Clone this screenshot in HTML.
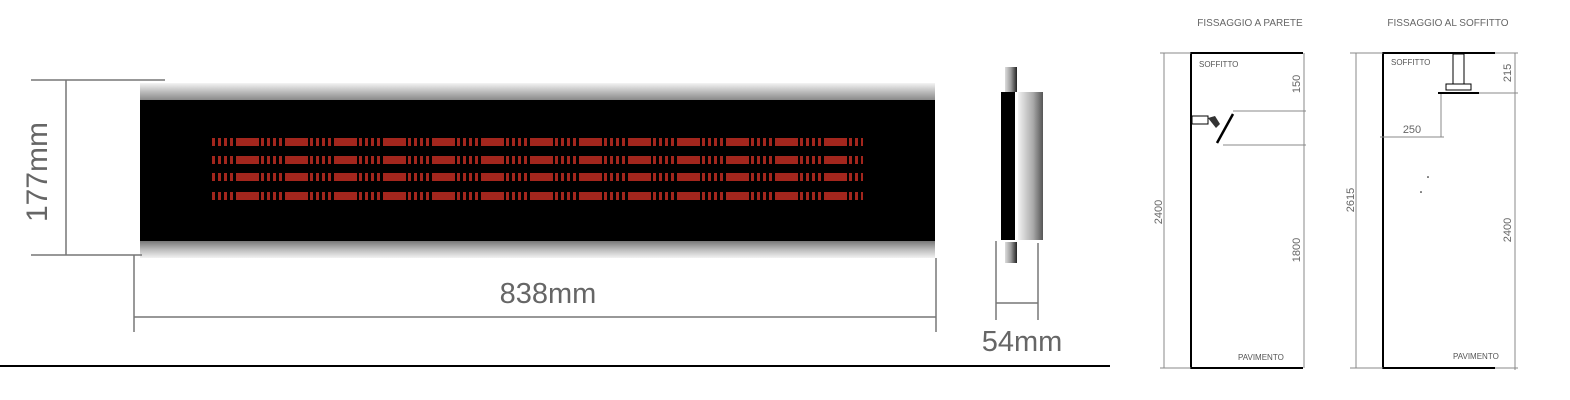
<!DOCTYPE html>
<html><head><meta charset="utf-8"><style>
html,body{margin:0;padding:0;background:#fff;}
svg{display:block;}
text{font-family:"Liberation Sans",sans-serif;}
</style></head><body>
<svg width="1570" height="400" viewBox="0 0 1570 400" xmlns="http://www.w3.org/2000/svg">
<defs>
<linearGradient id="bar" x1="0" y1="0" x2="0" y2="1">
<stop offset="0" stop-color="#f4f4f4"/><stop offset="0.5" stop-color="#bdbdbd"/><stop offset="1" stop-color="#8a8a8a"/></linearGradient>
<linearGradient id="bar2" x1="0" y1="0" x2="0" y2="1">
<stop offset="0" stop-color="#777"/><stop offset="0.5" stop-color="#bbb"/><stop offset="1" stop-color="#f2f2f2"/></linearGradient>
<linearGradient id="side" x1="0" y1="0" x2="1" y2="0">
<stop offset="0" stop-color="#f2f2f2"/><stop offset="0.6" stop-color="#aaa"/><stop offset="1" stop-color="#555"/></linearGradient>
<linearGradient id="cyl" x1="0" y1="0" x2="1" y2="0">
<stop offset="0" stop-color="#ddd"/><stop offset="0.5" stop-color="#999"/><stop offset="1" stop-color="#222"/></linearGradient>
<pattern id="red" x="212" y="0" width="49" height="400" patternUnits="userSpaceOnUse">
<rect x="0" y="0" width="3" height="400" fill="#a3261d"/>
<rect x="6" y="0" width="3" height="400" fill="#a3261d"/>
<rect x="12" y="0" width="3" height="400" fill="#a3261d"/>
<rect x="18" y="0" width="3" height="400" fill="#a3261d"/>
<rect x="24" y="0" width="23" height="400" fill="#a3261d"/>
</pattern>
</defs>

<!-- heater front -->
<rect x="140" y="83" width="795" height="17" fill="url(#bar)"/>
<rect x="140" y="100" width="795" height="141" fill="#000"/>
<rect x="140" y="241" width="795" height="17" fill="url(#bar2)"/>
<g fill="url(#red)">
<rect x="212" y="138" width="640" height="8"/>
<rect x="212" y="156" width="640" height="8"/>
<rect x="212" y="173" width="640" height="8"/>
<rect x="212" y="192" width="640" height="8"/>
</g>
<g fill="#a3261d">
<rect x="855" y="138" width="3" height="8"/><rect x="861" y="138" width="2" height="8"/>
<rect x="855" y="156" width="3" height="8"/><rect x="861" y="156" width="2" height="8"/>
<rect x="855" y="173" width="3" height="8"/><rect x="861" y="173" width="2" height="8"/>
<rect x="855" y="192" width="3" height="8"/><rect x="861" y="192" width="2" height="8"/>
</g>

<!-- dimensions front -->
<g stroke="#777" stroke-width="1.5" fill="none">
<line x1="31" y1="80" x2="165" y2="80"/>
<line x1="31" y1="255" x2="142" y2="255"/>
<line x1="66" y1="80" x2="66" y2="255"/>
<line x1="134" y1="255" x2="134" y2="332"/>
<line x1="936" y1="258" x2="936" y2="332"/>
<line x1="134" y1="317" x2="936" y2="317"/>
</g>
<text x="0" y="0" transform="translate(47,172) rotate(-90)" text-anchor="middle" font-size="30" fill="#666">177mm</text>
<text x="548" y="303" text-anchor="middle" font-size="29" fill="#666">838mm</text>

<!-- side view -->
<rect x="1005" y="67" width="12" height="25" fill="url(#cyl)"/>
<rect x="1005" y="242" width="12" height="21" fill="url(#cyl)"/>
<rect x="1001" y="92" width="14" height="148" fill="#000"/>
<rect x="1018" y="92" width="25" height="148" fill="url(#side)"/>
<g stroke="#777" stroke-width="1.5">
<line x1="996" y1="241" x2="996" y2="320"/>
<line x1="1038" y1="243" x2="1038" y2="320"/>
<line x1="996" y1="303" x2="1038" y2="303"/>
</g>
<text x="1022" y="351" text-anchor="middle" font-size="29" fill="#666">54mm</text>

<line x1="0" y1="366" x2="1110" y2="366" stroke="#000" stroke-width="2"/>

<!-- wall mounting -->
<text x="1250" y="26" text-anchor="middle" font-size="10" fill="#666">FISSAGGIO A PARETE</text>
<g stroke="#000" stroke-width="2" fill="none">
<polyline points="1303,53 1191,53 1191,368 1303,368"/>
</g>
<g stroke="#888" stroke-width="1" fill="none">
<line x1="1160" y1="53" x2="1191" y2="53"/>
<line x1="1160" y1="368" x2="1191" y2="368"/>
<line x1="1164" y1="53" x2="1164" y2="368"/>
<line x1="1304" y1="53" x2="1304" y2="368"/>
<line x1="1233" y1="111" x2="1306" y2="111"/>
<line x1="1223" y1="145" x2="1306" y2="145"/>
</g>
<text transform="translate(1162,212) rotate(-90)" text-anchor="middle" font-size="11" fill="#666">2400</text>
<text transform="translate(1300,84) rotate(-90)" text-anchor="middle" font-size="11" fill="#666">150</text>
<text transform="translate(1300,250) rotate(-90)" text-anchor="middle" font-size="11" fill="#666">1800</text>
<text x="1199" y="67" font-size="8" fill="#555">SOFFITTO</text>
<text x="1238" y="360" font-size="8" fill="#555">PAVIMENTO</text>
<rect x="1192" y="116" width="16" height="8" fill="#fff" stroke="#000" stroke-width="1"/>
<path d="M1208 118 L1215 116 L1220 124 L1216 128 Z" fill="#333"/>
<line x1="1217" y1="143" x2="1233" y2="114" stroke="#000" stroke-width="2.5"/>

<!-- ceiling mounting -->
<text x="1448" y="26" text-anchor="middle" font-size="10" fill="#666">FISSAGGIO AL SOFFITTO</text>
<g stroke="#000" stroke-width="2" fill="none">
<polyline points="1495,53 1383,53 1383,368 1495,368"/>
</g>
<rect x="1453" y="54" width="11" height="30" fill="#fff" stroke="#000" stroke-width="1"/>
<rect x="1446" y="84" width="25" height="6" fill="#fff" stroke="#000" stroke-width="1"/>
<line x1="1438" y1="93" x2="1479" y2="93" stroke="#000" stroke-width="2"/>
<g stroke="#888" stroke-width="1" fill="none">
<line x1="1350" y1="53" x2="1383" y2="53"/>
<line x1="1350" y1="368" x2="1383" y2="368"/>
<line x1="1356" y1="53" x2="1356" y2="368"/>
<line x1="1495" y1="53" x2="1518" y2="53"/>
<line x1="1479" y1="93" x2="1518" y2="93"/>
<line x1="1495" y1="368" x2="1518" y2="368"/>
<line x1="1515" y1="53" x2="1515" y2="370"/>
<line x1="1441" y1="94" x2="1441" y2="137"/>
<line x1="1380" y1="137" x2="1444" y2="137"/>
</g>
<text transform="translate(1354,200) rotate(-90)" text-anchor="middle" font-size="11" fill="#666">2615</text>
<text transform="translate(1511,73) rotate(-90)" text-anchor="middle" font-size="11" fill="#666">215</text>
<text transform="translate(1511,230) rotate(-90)" text-anchor="middle" font-size="11" fill="#666">2400</text>
<text x="1412" y="133" text-anchor="middle" font-size="11" fill="#666">250</text>
<text x="1391" y="65" font-size="8" fill="#555">SOFFITTO</text>
<text x="1453" y="359" font-size="8" fill="#555">PAVIMENTO</text>
<circle cx="1428" cy="177" r="0.8" fill="#000"/>
<circle cx="1421" cy="192" r="0.8" fill="#000"/>
</svg>
</body></html>
